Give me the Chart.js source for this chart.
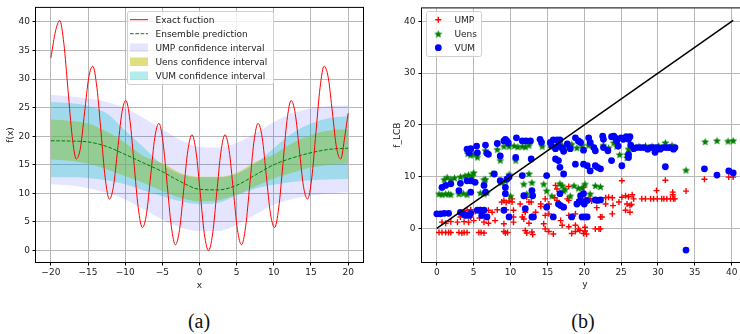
<!DOCTYPE html>
<html>
<head>
<meta charset="utf-8">
<script src="https://cdn.jsdelivr.net/npm/chart.js@4.4.0/dist/chart.umd.min.js"></script>
<style>
  body { margin: 0; background: #fff; width: 740px; height: 334px; overflow: hidden; position: relative; }
  #chartA { position: absolute; left: 0; top: 0; }
  #chartB { position: absolute; left: 370px; top: 0; }
  .cap { position: absolute; top: 309px; height: 24px; line-height: 24px; width: 80px; text-align: center;
         font-family: 'Liberation Serif', serif; font-size: 20px; color: #111; }
</style>
</head>
<body>
<canvas id="chartA" width="370" height="300"></canvas>
<canvas id="chartB" width="400" height="300"></canvas>
<div class="cap" style="left:159px">(a)</div>
<div class="cap" style="left:543px">(b)</div>
<script>
// ---------- (a) exact function and confidence bands ----------
const fxX = [-20, -19.36, -18.80, -18.25, -17.69, -17.13, -16.58, -16.02, -15.47, -14.91,
  -14.36, -13.80, -13.24, -12.69, -12.13, -11.58, -11.02, -10.46, -9.91, -9.35,
  -8.80, -8.24, -7.68, -7.13, -6.57, -6.02, -5.46, -4.91, -4.35, -3.79,
  -3.24, -2.68, -2.13, -1.57, -1.01, -0.46, 0.10, 0.65, 1.21, 1.77,
  2.32, 2.88, 3.43, 3.99, 4.55, 5.10, 5.66, 6.21, 6.77, 7.32,
  7.88, 8.44, 8.99, 9.55, 10.10, 10.66, 11.22, 11.77, 12.33, 12.88,
  13.44, 13.99, 14.55, 15.11, 15.66, 16.22, 16.77, 17.33, 17.89, 18.44,
  19.00, 19.55, 20];
const fxY = [33.7, 38.46, 40.25, 36.21, 28.06, 19.95, 16.00, 17.95, 24.06, 30.21,
  32.25, 28.46, 20.56, 12.70, 9.00, 11.20, 17.56, 23.96, 26.25, 22.71,
  15.06, 7.44, 4.00, 6.44, 13.06, 19.71, 22.25, 18.96, 11.56, 4.19,
  1.00, 3.69, 10.56, 17.46, 20.25, 17.21, 10.06, 2.94, 0, 2.94,
  10.06, 17.21, 20.25, 17.46, 10.56, 3.69, 1.00, 4.19, 11.56, 18.96,
  22.25, 19.71, 13.06, 6.44, 4.00, 7.44, 15.06, 22.71, 26.25, 23.96,
  17.56, 11.20, 9.00, 12.70, 20.56, 28.46, 32.25, 30.21, 24.06, 17.95,
  16.00, 19.95, 24.0];

const bandX   = [-20, -17.5, -15, -12.5, -10, -7.5, -5, -2.5, 0, 2.5, 5, 7.5, 10, 12.5, 15, 17.5, 20];
const ensMean = [19.2, 19.15, 19.0, 18.2, 16.8, 15.3, 13.8, 12.0, 10.7, 10.6, 11.4, 13.2, 15.0, 16.2, 17.1, 17.7, 17.9];
const umpHi   = [27.2, 27.0, 26.6, 26.0, 24.9, 23.2, 21.2, 19.3, 18.1, 18.0, 18.8, 20.5, 22.5, 24.0, 24.9, 25.3, 25.4];
const umpLo   = [11.6, 11.4, 10.9, 10.1, 8.9, 7.2, 5.4, 4.0, 3.4, 3.4, 4.5, 6.3, 8.0, 9.0, 9.6, 10.0, 10.2];
const uensHi  = [22.9, 22.7, 22.2, 20.8, 18.8, 16.5, 15.3, 13.5, 12.9, 12.9, 13.6, 15.5, 16.8, 18.8, 20.2, 21.0, 21.2];
const uensLo  = [15.9, 15.7, 15.2, 14.2, 13.0, 11.8, 10.4, 9.2, 8.6, 8.8, 9.8, 11.2, 12.6, 13.6, 14.5, 15.0, 15.2];
const vumHi   = [26.0, 25.8, 25.3, 24.0, 21.0, 18.0, 15.0, 13.3, 12.8, 12.8, 13.4, 15.2, 17.9, 20.5, 22.2, 23.2, 23.5];
const vumLo   = [12.8, 12.8, 12.7, 12.3, 11.6, 10.5, 9.5, 8.6, 8.1, 8.3, 9.6, 10.8, 11.5, 12.0, 12.3, 12.4, 12.5];

const xTicksA = [-20, -15, -10, -5, 0, 5, 10, 15, 20];
const yTicksA = [0, 5, 10, 15, 20, 25, 30, 35, 40];

// ---------- (b) f_LCB against y ----------
const umpPts = [
  [0.3,-0.8],[0.7,-0.8],[1.2,-0.8],[1.6,-0.8],[1.9,-0.8],[3.0,-0.8],[3.4,-0.9],[3.7,-0.8],[4.1,-0.8],
  [5.7,-0.8],[6.0,-0.8],[6.4,-0.9],[9.1,-0.6],[9.3,-0.9],[9.6,-0.8],[12.0,-0.4],[12.2,-0.9],[12.9,-0.7],
  [13.0,-1.2],[15.2,-0.6],[15.8,-1.1],[18.3,-1.0],[18.8,-0.6],[19.4,-0.4],[19.9,-1.0],[20.1,-0.5],
  [20.3,-1.1],[21.5,-0.1],[22.0,-0.1],[22.2,-0.1],
  [14.5,0.9],[14.7,-0.1],[16.8,1.5],[17.0,0.6],[17.9,0.3],[18.8,0.6],[19.2,-0.1],[20.1,0.2],
  [0.7,1.2],[1.2,1.0],[1.9,1.3],[2.8,1.2],[3.7,1.3],[4.3,1.2],[5.0,1.5],[6.4,1.2],[7.0,1.0],[7.9,1.5],
  [9.1,0.9],[10.4,1.2],[11.6,2.2],[12.5,1.0],[13.1,2.2],
  [3.2,2.2],[4.6,2.2],[5.8,2.0],[10.4,2.2],[11.8,1.8],[14.7,2.5],[15.2,2.8],[17.9,2.5],[18.8,2.8],
  [22.2,2.2],[22.4,2.2],[23.8,2.8],[4.1,3.5],[4.6,3.6],[5.2,3.3],[5.9,3.6],[7.0,3.5],[7.5,3.1],[8.2,3.6],
  [9.4,3.6],[10.4,3.5],[12.0,3.1],[13.4,3.1],[25.6,3.5],[26.2,3.1],
  [8.8,5.1],[9.1,5.4],[9.4,5.0],[9.8,5.3],[10.2,5.1],[10.2,5.7],[11.3,4.7],[12.5,5.1],[12.2,6.0],[12.8,5.1],
  [14.1,4.2],[14.1,4.7],[14.7,5.7],[15.2,4.7],[16.0,5.9],[16.3,5.4],[17.0,4.1],[17.7,5.7],[17.9,5.4],
  [19.0,5.1],[19.5,5.7],[19.9,4.7],[20.1,5.6],[20.8,5.7],[21.0,5.3],[21.7,4.0],[22.9,4.7],[22.9,5.9],
  [23.3,6.0],[23.8,5.9],[23.9,4.4],[24.7,5.1],[25.1,6.0],[25.6,6.3],[26.0,6.1],[26.5,6.5],[25.8,4.7],
  [26.2,4.4],[26.4,4.6],[26.7,5.7],[27.8,5.7],[28.3,5.7],[29.0,5.7],[29.4,5.7],[29.9,5.7],[30.5,5.7],
  [30.8,5.7],[31.2,5.7],[31.7,5.7],[32.1,5.7],[32.3,5.7],
  [16.1,8.3],[16.3,7.6],[17.9,8.1],[19.9,7.9],[29.8,7.3],[32.0,7.0],[32.0,6.5],[33.8,7.2],[25.1,9.2],
  [31.0,9.3],[36.3,9.5],[39.6,9.9],[40.2,9.9]
];
const uensPts = [
  [4.2,14.5],[4.6,14.2],[5.0,14.4],[5.5,13.8],[6.6,15.1],[8.2,15.3],[8.6,13.2],[9.1,15.9],[9.8,15.9],
  [10.5,16.0],[11.0,15.8],[11.6,15.9],[12.0,15.8],[12.5,16.1],[10.7,13.2],[14.3,15.9],[15.4,16.2],
  [16.1,15.6],[16.5,15.8],[17.0,16.1],[17.4,15.8],[18.3,16.3],[19.0,15.6],[19.7,16.1],[20.6,16.1],
  [21.2,15.9],[22.6,16.1],[23.3,15.6],[24.0,16.6],[24.4,15.9],[24.8,14.3],[25.8,13.7],[25.8,14.3],
  [26.0,15.4],[27.4,15.9],[28.3,16.0],[29.2,15.9],[30.1,16.0],[31.0,16.6],[31.9,16.1],[36.4,16.8],
  [38.0,17.0],[39.5,16.9],[40.2,17.0],[33.8,11.3],
  [0.3,6.7],[0.7,6.6],[1.2,6.7],[1.6,6.7],[1.9,6.6],[3.0,6.7],[3.6,6.8],[4.1,6.6],[5.9,6.9],[6.4,6.7],
  [6.8,7.0],[1.0,9.5],[1.4,9.9],[1.9,9.5],[2.4,9.8],[3.2,10.0],[3.8,10.2],[4.3,10.4],[4.8,10.2],
  [5.0,10.8],[6.4,9.5],[6.6,9.5],[7.5,10.6],[8.8,8.9],[9.3,9.2],[9.8,10.5],[10.0,6.3],[11.8,8.6],
  [12.2,6.7],[12.5,10.6],[12.9,8.9],[14.5,8.6],[14.9,7.3],[15.6,6.3],[16.7,8.7],[17.0,8.3],[17.2,7.3],
  [17.4,7.6],[18.1,6.3],[18.6,8.3],[19.2,7.8],[19.7,7.9],[20.1,8.6],[20.8,6.7],[21.5,8.3],[22.2,8.1]
];
const vumPts = [
  [4.1,15.3],[4.3,15.0],[4.6,15.4],[4.4,14.6],[5.4,15.9],[5.5,14.6],[6.6,16.1],[6.8,14.5],[7.0,14.3],
  [8.2,16.4],[8.6,14.0],[9.1,16.9],[9.3,17.2],[9.5,16.9],[9.7,16.5],[10.8,17.5],[10.7,13.7],[11.6,16.9],
  [12.1,16.9],[12.7,16.9],[12.8,13.4],[14.0,17.2],[14.2,16.6],[15.4,16.6],[15.6,15.9],[15.8,17.1],
  [16.1,15.4],[16.3,17.1],[16.5,16.1],[16.7,17.1],[17.0,15.5],[17.2,14.9],[17.7,16.3],[18.1,15.4],
  [18.8,17.5],[19.2,16.9],[19.5,16.6],[19.9,15.1],[20.6,17.5],[20.8,16.6],[21.3,15.6],[21.5,15.0],
  [22.5,17.8],[22.6,17.2],[22.6,15.6],[23.2,15.0],[23.7,17.7],[24.0,17.8],[24.2,17.5],[24.4,16.9],
  [24.6,15.9],[25.0,17.5],[25.3,17.2],[25.7,17.7],[26.0,17.2],[26.2,17.7],[26.3,16.1],[26.7,15.4],
  [27.1,15.6],[27.6,15.6],[28.1,15.6],[28.6,15.3],[29.0,15.6],[29.4,15.6],[29.6,14.7],[29.9,15.6],
  [30.3,15.3],[30.7,15.6],[31.2,15.6],[31.6,15.6],[32.1,15.3],[32.3,15.6],
  [16.1,13.4],[16.5,13.1],[16.7,11.8],[18.8,12.4],[19.9,12.4],[20.4,12.1],[20.8,11.1],[21.5,12.1],
  [21.8,11.8],[22.2,11.5],[23.7,13.1],[25.1,12.1],[26.0,14.3],[26.0,13.7],[31.0,11.9],[36.3,11.5],
  [38.0,10.3],[39.6,11.1],[40.2,10.7],[33.8,-4.2],
  [0.7,7.9],[1.2,8.3],[1.9,8.6],[3.0,7.3],[3.2,8.7],[4.1,9.2],[4.6,9.2],[4.6,7.0],[5.2,8.9],[6.4,8.3],
  [6.6,7.0],[7.8,10.5],[8.6,9.2],[9.5,9.5],[9.8,9.9],[9.3,7.9],[9.3,6.7],[11.6,10.2],[11.8,6.3],
  [12.9,7.3],[13.0,6.3],[14.9,10.2],[17.2,10.5],[16.7,6.7],[19.5,6.3],[19.9,6.7],
  [0.0,2.8],[0.5,2.8],[1.0,2.9],[1.6,2.9],[3.2,3.1],[3.6,2.8],[3.9,2.5],[4.4,2.5],[4.6,2.9],[5.5,3.5],
  [5.9,3.5],[6.4,3.5],[6.1,2.5],[6.8,2.2],[9.1,3.5],[9.8,2.2],[12.0,3.8],[12.9,2.2],[13.1,2.2],
  [14.9,4.1],[15.8,2.2],[16.5,4.7],[16.8,4.4],[17.2,4.1],[18.3,2.2],[19.0,4.7],[19.3,5.1],[19.5,5.4],
  [19.7,2.2],[20.1,2.2],[20.4,2.2],[20.0,4.7],[20.4,5.4],[21.5,5.5],[21.8,5.4],[22.2,5.5]
];
const diagX = [0, 40.2];
const diagY = [0, 40.2];

const xTicksB = [0, 5, 10, 15, 20, 25, 30, 35, 40];
const yTicksB = [0, 10, 20, 30, 40];

// ---------- helpers ----------
Chart.defaults.font.family = "'DejaVu Sans', sans-serif";
Chart.defaults.font.size = 9;
Chart.defaults.color = '#222';

function xy(xs, ys) {
    return xs.map((x, i) => ({ x: x, y: ys[i] }));
}
function pts(list) {
    return list.map(p => ({ x: p[0], y: p[1] }));
}
function ticksAt(values) {
    return function (scale) {
        scale.ticks = values.map(v => ({ value: v }));
    };
}
function minus(v) {
    return String(v).replace('-', '\u2212');
}
function starImage(r, color) {
    const c = document.createElement('canvas');
    const s = Math.ceil(r * 2 + 2);
    c.width = s;
    c.height = s;
    const g = c.getContext('2d');
    g.fillStyle = color;
    g.beginPath();
    for (let i = 0; i < 10; i++) {
        const rr = i % 2 ? r * 0.45 : r;
        const a = -Math.PI / 2 + i * Math.PI / 5;
        g.lineTo(s / 2 + rr * Math.cos(a), s / 2 + 0.6 + rr * Math.sin(a));
    }
    g.closePath();
    g.fill();
    return c;
}
function roundBox(ctx, x, y, w, h, r) {
    ctx.beginPath();
    ctx.moveTo(x + r, y);
    ctx.lineTo(x + w - r, y);
    ctx.quadraticCurveTo(x + w, y, x + w, y + r);
    ctx.lineTo(x + w, y + h - r);
    ctx.quadraticCurveTo(x + w, y + h, x + w - r, y + h);
    ctx.lineTo(x + r, y + h);
    ctx.quadraticCurveTo(x, y + h, x, y + h - r);
    ctx.lineTo(x, y + r);
    ctx.quadraticCurveTo(x, y, x + r, y);
    ctx.closePath();
}

const frame = {
    id: 'frame',
    afterDatasetsDraw(chart) {
        const a = chart.chartArea;
        const ctx = chart.ctx;
        ctx.save();
        ctx.strokeStyle = '#000';
        ctx.lineWidth = 1;
        ctx.strokeRect(a.left - 0.5, a.top - 0.5, a.right - a.left + 1, a.bottom - a.top + 1);
        ctx.restore();
    }
};

const gridStyle = { color: '#b8b8b8', lineWidth: 1, tickColor: '#000', tickLength: 3.5 };
const titleFont = { size: 9 };

// ---------- chart (a) ----------
const lineColors = { ump: 'rgba(0,0,255,0.1)', uens: 'rgba(191,191,0,0.5)', vum: 'rgba(0,191,191,0.3)' };

function band(data, fillTo, color, order, label) {
    return {
        label: label, data: data, fill: fillTo, backgroundColor: color,
        borderWidth: 0, pointRadius: 0, order: order, cubicInterpolationMode: 'monotone'
    };
}

const legendA = {
    id: 'legendA',
    afterDraw(chart) {
        const ctx = chart.ctx;
        const ds = chart.data.datasets;
        ctx.save();
        roundBox(ctx, 127.5, 11.5, 146, 73, 2);
        ctx.fillStyle = 'rgba(255,255,255,0.8)';
        ctx.fill();
        ctx.strokeStyle = '#d0d0d0';
        ctx.lineWidth = 1;
        ctx.stroke();
        const rows = [ds[0], ds[1], ds[2], ds[4], ds[6]];
        ctx.font = "9px 'DejaVu Sans'";
        ctx.textBaseline = 'middle';
        rows.forEach((d, i) => {
            const y = 19.7 + i * 14;
            if (i < 2) {
                ctx.strokeStyle = d.borderColor;
                ctx.lineWidth = 1;
                ctx.setLineDash(d.borderDash || []);
                ctx.beginPath();
                ctx.moveTo(130, y);
                ctx.lineTo(148, y);
                ctx.stroke();
                ctx.setLineDash([]);
            } else {
                ctx.fillStyle = d.backgroundColor;
                ctx.fillRect(130, y - 4.2, 18, 8.5);
            }
            ctx.fillStyle = '#222';
            ctx.fillText(d.label, 155.5, y + 0.5);
        });
        ctx.restore();
    }
};

new Chart(document.getElementById('chartA'), {
    type: 'line',
    data: {
        datasets: [
            { label: 'Exact fuction', data: xy(fxX, fxY), borderColor: '#ff0000', borderWidth: 1,
              pointRadius: 0, fill: false, order: 0, cubicInterpolationMode: 'monotone' },
            { label: 'Ensemble prediction', data: xy(bandX, ensMean), borderColor: '#008000', borderWidth: 1,
              borderDash: [3.7, 1.6], pointRadius: 0, fill: false, order: 1, cubicInterpolationMode: 'monotone' },
            band(xy(bandX, umpHi), 3, lineColors.ump, 6, 'UMP confidence interval'),
            band(xy(bandX, umpLo), false, lineColors.ump, 6, ''),
            band(xy(bandX, uensHi), 5, lineColors.uens, 5, 'Uens confidence interval'),
            band(xy(bandX, uensLo), false, lineColors.uens, 5, ''),
            band(xy(bandX, vumHi), 7, lineColors.vum, 4, 'VUM confidence interval'),
            band(xy(bandX, vumLo), false, lineColors.vum, 4, '')
        ]
    },
    options: {
        responsive: false,
        animation: false,
        events: [],
        layout: { padding: { top: 6, right: 7, left: 0, bottom: 0 } },
        plugins: { legend: { display: false }, tooltip: { enabled: false } },
        scales: {
            x: {
                type: 'linear', min: -22, max: 22,
                afterBuildTicks: ticksAt(xTicksA),
                afterFit: s => { s.height = 38; },
                grid: gridStyle, border: { display: false },
                ticks: { padding: 2, callback: minus, autoSkip: false, maxRotation: 0 },
                title: { display: true, text: 'x', font: titleFont, padding: { top: 0, bottom: 8.6 } }
            },
            y: {
                type: 'linear', min: -2.02, max: 42.45,
                afterBuildTicks: ticksAt(yTicksA),
                afterFit: s => { s.width = 36; },
                grid: gridStyle, border: { display: false },
                ticks: { padding: 2.5, callback: minus, autoSkip: false },
                title: { display: true, text: 'f(x)', font: titleFont, padding: { top: 5.3, bottom: 0 } }
            }
        }
    },
    plugins: [frame, legendA]
});

// ---------- chart (b) ----------
const starGreen = starImage(4.2, '#008000');

const legendB = {
    id: 'legendB',
    afterDraw(chart) {
        const ctx = chart.ctx;
        const ds = chart.data.datasets;
        ctx.save();
        roundBox(ctx, 56.5, 11.5, 55, 45, 2);
        ctx.fillStyle = 'rgba(255,255,255,0.8)';
        ctx.fill();
        ctx.strokeStyle = '#d0d0d0';
        ctx.lineWidth = 1;
        ctx.stroke();
        ctx.font = "9px 'DejaVu Sans'";
        ctx.textBaseline = 'middle';
        const mx = 68.3;
        [ds[1], ds[2], ds[3]].forEach((d, i) => {
            const y = 19.7 + i * 14;
            if (i === 0) {
                ctx.strokeStyle = d.borderColor;
                ctx.lineWidth = d.pointBorderWidth;
                ctx.beginPath();
                ctx.moveTo(mx - 3, y); ctx.lineTo(mx + 3, y);
                ctx.moveTo(mx, y - 3); ctx.lineTo(mx, y + 3);
                ctx.stroke();
            } else if (i === 1) {
                ctx.drawImage(starGreen, mx - starGreen.width / 2, y - starGreen.height / 2);
            } else {
                ctx.fillStyle = d.backgroundColor;
                ctx.beginPath();
                ctx.arc(mx, y, 3.4, 0, Math.PI * 2);
                ctx.fill();
            }
            ctx.fillStyle = '#222';
            ctx.fillText(d.label, 84.5, y + 0.5);
        });
        ctx.restore();
    }
};

new Chart(document.getElementById('chartB'), {
    type: 'scatter',
    data: {
        datasets: [
            { label: 'y = f', data: xy(diagX, diagY), showLine: true, borderColor: '#000', borderWidth: 1.5,
              pointRadius: 0, order: -1 },
            { label: 'UMP', data: pts(umpPts), pointStyle: 'cross', pointRadius: 3,
              borderColor: '#ff0000', pointBorderWidth: 1.4, order: 3 },
            { label: 'Uens', data: pts(uensPts), pointStyle: starGreen, pointRadius: 4,
              backgroundColor: '#008000', order: 2 },
            { label: 'VUM', data: pts(vumPts), pointStyle: 'circle', pointRadius: 3.4,
              backgroundColor: '#0000ff', borderColor: '#0000ff', pointBorderWidth: 0, order: 1 }
        ]
    },
    options: {
        responsive: false,
        animation: false,
        events: [],
        layout: { padding: { top: 7, right: 22, left: 0, bottom: 0 } },
        plugins: { legend: { display: false }, tooltip: { enabled: false } },
        scales: {
            x: {
                type: 'linear', min: -2.01, max: 42.21,
                afterBuildTicks: ticksAt(xTicksB),
                afterFit: s => { s.height = 38; },
                grid: gridStyle, border: { display: false },
                ticks: { padding: 2, callback: minus, autoSkip: false, maxRotation: 0 },
                title: { display: true, text: 'y', font: titleFont, padding: { top: 0, bottom: 9.6 } }
            },
            y: {
                type: 'linear', min: -6.5, max: 42.5,
                afterBuildTicks: ticksAt(yTicksB),
                afterFit: s => { s.width = 52; },
                grid: gridStyle, border: { display: false },
                ticks: { padding: 3, callback: minus, autoSkip: false },
                title: { display: true, text: 'f_LCB', font: titleFont, padding: { top: 22.6, bottom: 0 } }
            }
        }
    },
    plugins: [frame, legendB]
});
</script>
</body>
</html>
